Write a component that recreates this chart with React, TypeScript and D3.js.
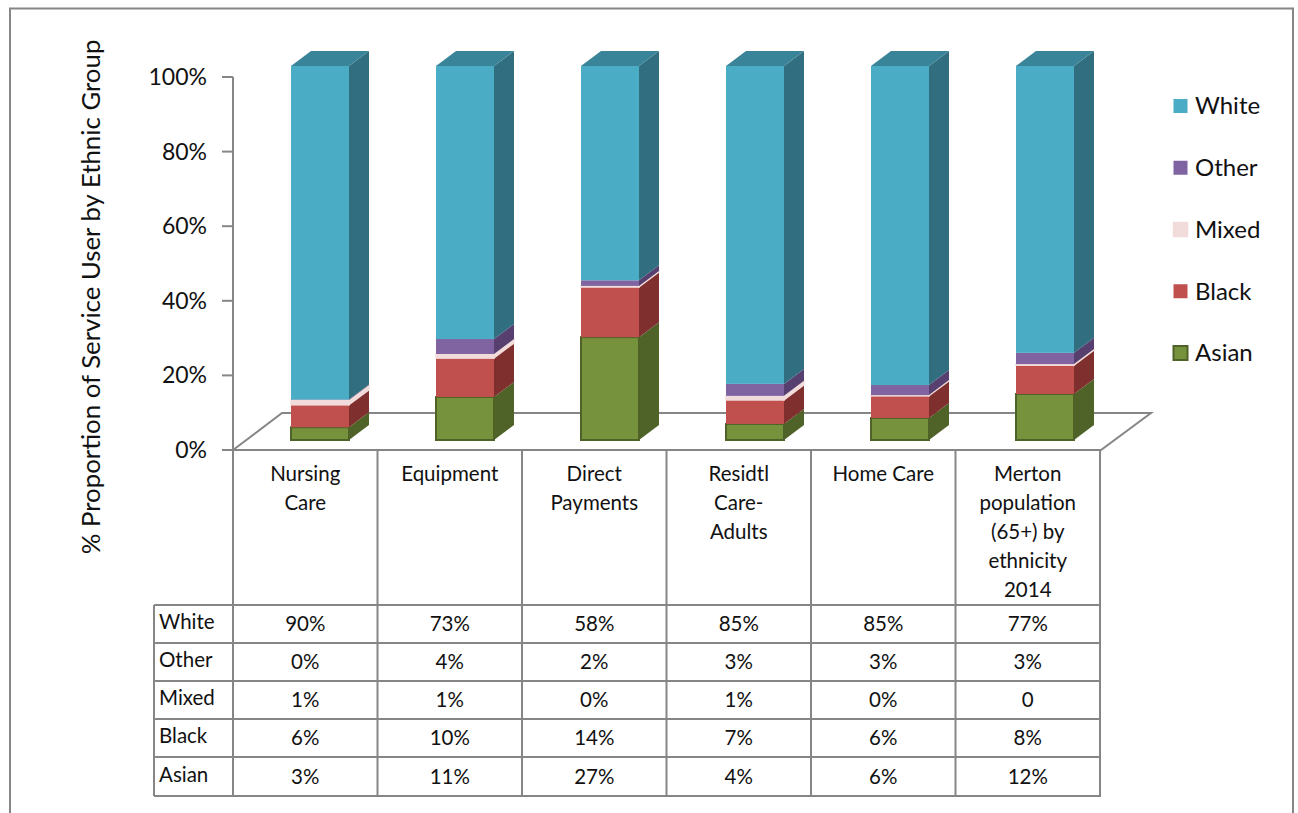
import React from "react";
import * as d3 from "d3";

const categories = [
  ["Nursing", "Care"],
  ["Equipment"],
  ["Direct", "Payments"],
  ["Residtl", "Care-", "Adults"],
  ["Home Care"],
  ["Merton", "population", "(65+) by", "ethnicity", "2014"],
];
const categoryIds = ["Nursing Care", "Equipment", "Direct Payments", "Residtl Care-Adults", "Home Care", "Merton"];
const seriesNames = ["Asian", "Black", "Mixed", "Other", "White"];
const asianValues = [3.4, 11.5, 27.5, 4.3, 5.9, 12.3];
const blackValues = [6.0, 10.4, 13.4, 6.4, 5.9, 7.7];
const mixedValues = [1.3, 1.1, 0.3, 1.1, 0.2, 0.3];
const otherValues = [0.1, 4.0, 1.5, 3.2, 2.7, 3.0];
const whiteValues = [89.2, 73.0, 57.3, 85.0, 85.3, 76.7];
const plotted = [asianValues, blackValues, mixedValues, otherValues, whiteValues];

const tableRows = ["White", "Other", "Mixed", "Black", "Asian"];
const whiteLabels = ["90%", "73%", "58%", "85%", "85%", "77%"];
const otherLabels = ["0%", "4%", "2%", "3%", "3%", "3%"];
const mixedLabels = ["1%", "1%", "0%", "1%", "0%", "0"];
const blackLabels = ["6%", "10%", "14%", "7%", "6%", "8%"];
const asianLabels = ["3%", "11%", "27%", "4%", "6%", "12%"];
const tableLabels = [whiteLabels, otherLabels, mixedLabels, blackLabels, asianLabels];
const yTicks = [0, 20, 40, 60, 80, 100];

const colors: Record<string, { front: string; side: string; top: string; stroke: string; sw: number }> = {
  White: { front: "#4BACC6", side: "#316F80", top: "#3A8499", stroke: "#4BACC6", sw: 0 },
  Other: { front: "#8064A2", side: "#573F70", top: "#664F84", stroke: "#8064A2", sw: 0 },
  Mixed: { front: "#F2DCDB", side: "#F2DCDB", top: "#F2DCDB", stroke: "#F2DCDB", sw: 1.5 },
  Black: { front: "#C0504D", side: "#7F302E", top: "#9C3F3C", stroke: "#C0504D", sw: 0 },
  Asian: { front: "#76923C", side: "#4F6228", top: "#5F7A2E", stroke: "#4F6228", sw: 2 },
};

const GREY = "#868686";
const FONT = "Lato, 'Open Sans', sans-serif";
const TABLE_SIZE = 20.5;
const depthX = 20;
const depthY = 15;

const yAxis = d3.scaleLinear().domain([0, 100]).range([450, 77]);
const yBar = d3.scaleLinear().domain([0, 100]).range([440, 66]);
const columns = d3.scaleBand<string>().domain(categoryIds).range([233, 1100]);
const barX = d3.scaleBand<string>().domain(categoryIds).range([247.5, 1117.5]).paddingInner(0.6).paddingOuter(0.3);
const rowEdges = [605, 643, 681, 719, 757, 796];

const poly = (pts: [number, number][]) => {
  const p = d3.path();
  pts.forEach(([x, y], i) => (i ? p.lineTo(x, y) : p.moveTo(x, y)));
  p.closePath();
  return p.toString();
};

export default function App() {
  const stacks = d3.stack<number>()
    .keys(d3.range(seriesNames.length).map(String))
    .value((i, k) => plotted[+k][i])(d3.range(categories.length));

  return (
    <svg width={1298} height={813} style={{ position: "absolute", left: 0, top: 0, background: "#fff" }} fontFamily={FONT}>
      {/* outer frame */}
      <path d="M10,813V8.5H1293V813" fill="none" stroke={GREY} strokeWidth={2} />

      {/* floor */}
      <path d={poly([[233, 450], [282, 413], [1151, 413], [1101, 450]])} fill="none" stroke={GREY} strokeWidth={2} />

      {/* y axis */}
      <line x1={233} x2={233} y1={yAxis(100)} y2={rowEdges[5]} stroke={GREY} strokeWidth={2} />
      {yTicks.map((t) => (
        <g key={t}>
          <line x1={222} x2={233} y1={yAxis(t)} y2={yAxis(t)} stroke={GREY} strokeWidth={2} />
          <text x={207} y={yAxis(t)} dy="0.35em" textAnchor="end" fontSize={23} fill="#111">{t}%</text>
        </g>
      ))}
      <text transform="translate(91,297) rotate(-90)" textAnchor="middle" dy="0.35em" fontSize={25.8} fill="#111">
        % Proportion of Service User by Ethnic Group
      </text>

      {/* bars */}
      {categoryIds.map((c, i) => {
        const x0 = barX(c)!;
        const w = barX.bandwidth();
        const x1 = x0 + w;
        return (
          <g key={c}>
            {stacks.map((s, si) => {
              const name = seriesNames[si];
              const col = colors[name];
              const yb = yBar(s[i][0]);
              const yt = yBar(s[i][1]);
              return (
                <g key={name}>
                  <path d={poly([[x1, yb], [x1 + depthX, yb - depthY], [x1 + depthX, yt - depthY], [x1, yt]])} fill={col.side} stroke={name === "Asian" ? col.side : col.stroke} strokeWidth={name === "Mixed" ? 1.2 : 0} />
                  {si === stacks.length - 1 && (
                    <path d={poly([[x0, yt], [x0 + depthX, yt - depthY], [x1 + depthX, yt - depthY], [x1, yt]])} fill={col.top} />
                  )}
                  <rect x={x0} y={yt} width={w} height={yb - yt} fill={col.front} stroke={col.stroke} strokeWidth={col.sw} />
                </g>
              );
            })}
          </g>
        );
      })}

      {/* legend */}
      {tableRows.map((name, i) => {
        const cy = 106 + i * 61.75;
        const col = colors[name];
        return (
          <g key={name}>
            <rect x={1173.5} y={cy - 7} width={14} height={14} fill={col.front} stroke={col.stroke} strokeWidth={name === "Asian" ? 2 : name === "Mixed" ? 1.5 : 0} />
            <text x={1195} y={cy} dy="0.35em" fontSize={24} fill="#111">{name}</text>
          </g>
        );
      })}

      {/* data table */}
      <g stroke={GREY} strokeWidth={2}>
        <line x1={233} x2={1101} y1={450} y2={450} />
        {rowEdges.map((y) => <line key={y} x1={154} x2={1101} y1={y} y2={y} />)}
        <line x1={154} x2={154} y1={rowEdges[0]} y2={rowEdges[5]} />
        {categoryIds.map((c) => {
          const x = columns(c)! + columns.bandwidth();
          return <line key={c} x1={x} x2={x} y1={450} y2={rowEdges[5]} />;
        })}
      </g>
      {categories.map((lines, i) => (
        <text key={i} x={columns(categoryIds[i])! + columns.bandwidth() / 2} textAnchor="middle" fontSize={TABLE_SIZE} fill="#111">
          {lines.map((l, j) => <tspan key={j} x={columns(categoryIds[i])! + columns.bandwidth() / 2} y={481 + j * 29}>{l}</tspan>)}
        </text>
      ))}
      {tableRows.map((r, ri) => {
        const cy = (rowEdges[ri] + rowEdges[ri + 1]) / 2;
        return (
          <g key={r}>
            <text x={159} y={cy - 2} dy="0.35em" fontSize={TABLE_SIZE} fill="#111">{r}</text>
            {tableLabels[ri].map((v, ci) => (
              <text key={ci} x={columns(categoryIds[ci])! + columns.bandwidth() / 2} y={cy} dy="0.35em" textAnchor="middle" fontSize={TABLE_SIZE} fill="#111">{v}</text>
            ))}
          </g>
        );
      })}
    </svg>
  );
}
